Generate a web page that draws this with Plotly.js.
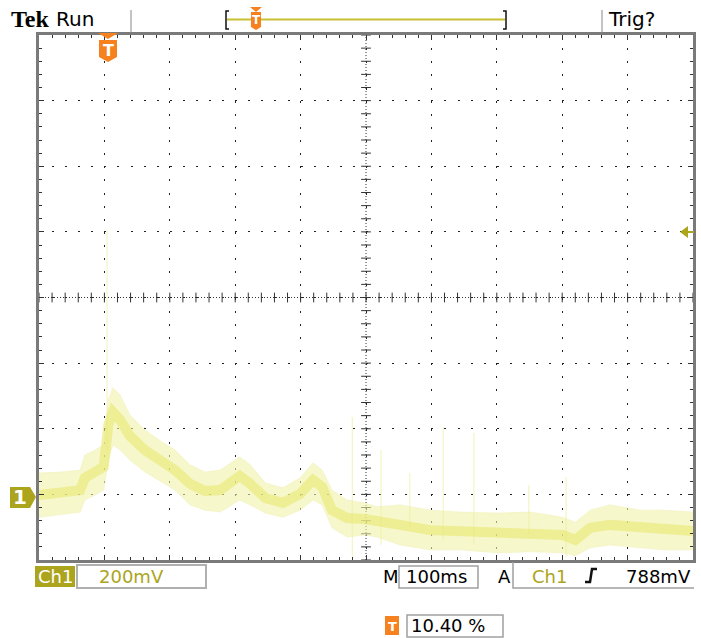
<!DOCTYPE html>
<html><head><meta charset="utf-8">
<script src="https://cdn.plot.ly/plotly-3.0.1.min.js"></script>
<style>html,body{margin:0;padding:0;background:#fff;}#chart{width:701px;height:638px;}</style>
</head><body><div id="chart"></div>
<script>
// ---- Data (time in ms, voltage in mV relative to Ch1 ground) ----
const timeMs   = [0, 32, 63, 70, 86, 99, 106, 113, 124, 139, 162, 190, 208, 231, 254, 277, 307, 323, 346, 373, 399, 419, 433, 448, 471, 498, 517, 552, 598, 644, 700, 751, 801, 820, 843, 873, 919, 954, 1000];
const envHiMv  = [65, 68, 74, 120, 135, 151, 288, 325, 303, 242, 196, 157, 135, 90, 68, 74, 114, 90, 35, 20, 50, 96, 74, 13, -17, -26, -38, -32, -48, -54, -57, -54, -70, -85, -48, -32, -48, -48, -54];
const envLoMv  = [-70, -63, -54, -17, -2, 13, 105, 151, 135, 105, 68, 35, 13, -32, -48, -54, -17, -32, -57, -70, -48, -17, -32, -102, -130, -124, -130, -154, -169, -169, -178, -175, -178, -187, -163, -154, -163, -169, -169];
const coreMv   = [-2, 4, 13, 50, 68, 84, 212, 251, 227, 178, 135, 99, 74, 32, 10, 13, 56, 32, -11, -26, 1, 44, 23, -48, -72, -75, -84, -93, -109, -112, -118, -115, -124, -139, -102, -93, -102, -109, -112];
const spikeTimeMs   = [104, 479, 523, 567, 618, 665, 749, 806];
const spikeTopMv    = [806, 236, 135, 65, 205, 187, 29, 53];
const spikeBottomMv = [135, -191, -154, -100, -140, -154, -120, -191];

// ---- Scope settings / readouts ----
const chLabel = 'Ch1';
const voltsPerDiv = '200mV';
const timePerDiv = '100ms';
const trigLevel = '788mV';
const trigPos = '10.40 %';
const statusText = 'Run';
const trigStatus = 'Trig?';

// ---- geometry helpers (pixel -> paper) ----
const ML = 39, MT = 35, PW = 654, PH = 525;
const PX = x => (x - ML) / PW;
const PY = y => 1 - (y - MT) / PH;
const pp = s => s.replace(/(-?\d+\.?\d*),(-?\d+\.?\d*)/g, (m, a, b) => PX(+a) + ',' + PY(+b));

const olive = '#aca41c';
const orange = '#f5821f';

// spikes as segments
const spX = [], spY = [];
spikeTimeMs.forEach((t, i) => { spX.push(t, t, null); spY.push(spikeBottomMv[i], spikeTopMv[i], null); });

// center-line tick decorations (every 1/5 division)
const ctX = [], ctY = [], crX = [], crY = [];
for (let t = 0; t <= 1000; t += 20) { ctX.push(t); ctY.push(600); }
for (let v = -200; v <= 1400; v += 40) { crX.push(500); crY.push(v); }

const traces = [
  {x: ctX, y: ctY, mode: 'markers', marker: {symbol: 'line-ns', size: 7, line: {color: '#333', width: 1}}, hoverinfo: 'skip'},
  {x: crX, y: crY, mode: 'markers', marker: {symbol: 'line-ew', size: 7, line: {color: '#333', width: 1}}, hoverinfo: 'skip'},
  {x: timeMs, y: envLoMv, mode: 'lines', line: {color: 'rgba(240,240,180,0.5)', width: 1}, hoverinfo: 'skip'},
  {x: timeMs, y: envHiMv, mode: 'lines', fill: 'tonexty', fillcolor: 'rgba(242,242,170,0.6)', line: {color: 'rgba(240,240,180,0.5)', width: 1}, hoverinfo: 'skip'},
  {x: spX, y: spY, mode: 'lines', line: {color: 'rgba(238,238,160,0.75)', width: 1}, hoverinfo: 'skip'},
  {x: timeMs, y: coreMv, mode: 'lines', line: {color: 'rgba(232,232,110,0.6)', width: 10}, hoverinfo: 'skip'}
];

const axisCommon = {
  showgrid: true, gridcolor: '#222', gridwidth: 1,
  showline: true, linecolor: '#7a7a7a', linewidth: 3, mirror: 'allticks',
  ticks: 'inside', ticklen: 5, tickcolor: '#333', tickwidth: 1,
  showticklabels: false, zeroline: false, fixedrange: true
};

const shapes = [
  {type: 'line', xref: 'x', yref: 'y', x0: 0, x1: 1000, y0: 600, y1: 600, line: {color: '#333', width: 1, dash: '1px,2px'}, layer: 'below'},
  {type: 'line', xref: 'x', yref: 'y', x0: 500, x1: 500, y0: -200, y1: 1400, line: {color: '#333', width: 1, dash: '1px,2px'}, layer: 'below'},
  {type: 'line', xref: 'paper', yref: 'paper', x0: PX(131), x1: PX(131), y0: PY(10), y1: PY(33), line: {color: '#888', width: 1}},
  {type: 'line', xref: 'paper', yref: 'paper', x0: PX(602), x1: PX(602), y0: PY(10), y1: PY(33), line: {color: '#888', width: 1}},
  {type: 'line', xref: 'paper', yref: 'paper', x0: PX(227), x1: PX(505), y0: PY(19.5), y1: PY(19.5), line: {color: '#c9c033', width: 2}},
  {type: 'path', xref: 'paper', yref: 'paper', path: pp('M229,11 L226,11 L226,29 L229,29'), line: {color: '#111', width: 1.5}},
  {type: 'path', xref: 'paper', yref: 'paper', path: pp('M503,11 L506,11 L506,29 L503,29'), line: {color: '#111', width: 1.5}},
  {type: 'path', xref: 'paper', yref: 'paper', path: pp('M250,7 L262,7 L256,12 Z'), fillcolor: orange, line: {width: 0}},
  {type: 'path', xref: 'paper', yref: 'paper', path: pp('M251,12 L261,12 L261,27 L256,30 L251,27 Z'), fillcolor: orange, line: {width: 0}},
  {type: 'path', xref: 'paper', yref: 'paper', path: pp('M98,33 L118,33 L108,39 Z'), fillcolor: orange, line: {width: 0}},
  {type: 'path', xref: 'paper', yref: 'paper', path: pp('M99,40 L117,40 L117,57 L108,62 L99,57 Z'), fillcolor: orange, line: {width: 0}},
  {type: 'path', xref: 'paper', yref: 'paper', path: pp('M10,487 L30,487 L36,497 L30,508 L10,508 Z'), fillcolor: olive, line: {width: 0}},
  {type: 'path', xref: 'paper', yref: 'paper', path: pp('M680,232 L688,226 L688,238 Z'), fillcolor: olive, line: {width: 0}},
  {type: 'line', xref: 'paper', yref: 'paper', x0: PX(687), x1: PX(694), y0: PY(232), y1: PY(232), line: {color: olive, width: 2}},
  {type: 'rect', xref: 'paper', yref: 'paper', x0: PX(35), x1: PX(75), y0: PY(566), y1: PY(587), fillcolor: olive, line: {width: 0}},
  {type: 'rect', xref: 'paper', yref: 'paper', x0: PX(77), x1: PX(206), y0: PY(565), y1: PY(588), line: {color: '#b0b0b0', width: 2}},
  {type: 'rect', xref: 'paper', yref: 'paper', x0: PX(399), x1: PX(478), y0: PY(566), y1: PY(588), line: {color: '#a0a0a0', width: 1.5}},
  {type: 'path', xref: 'paper', yref: 'paper', path: pp('M513,562 L513,588 L694,588'), line: {color: '#a0a0a0', width: 1.5}},
  {type: 'path', xref: 'paper', yref: 'paper', path: pp('M585,582 L590,582 L592,569 L597,569'), line: {color: '#111', width: 2.5}},
  {type: 'rect', xref: 'paper', yref: 'paper', x0: PX(385), x1: PX(399), y0: PY(616), y1: PY(635), fillcolor: orange, line: {width: 0}},
  {type: 'rect', xref: 'paper', yref: 'paper', x0: PX(407), x1: PX(503), y0: PY(615), y1: PY(637), line: {color: '#a0a0a0', width: 1.5}}
];

const F = 'DejaVu Sans, sans-serif';
const ann = (x, y, text, size, color, extra) => Object.assign({
  xref: 'paper', yref: 'paper', x: PX(x), y: PY(y), text: text, showarrow: false,
  xanchor: 'left', yanchor: 'middle', font: {family: F, size: size, color: color}
}, extra || {});

const annotations = [
  ann(9, 19, '<b>Tek</b>', 24, '#000', {font: {family: 'Liberation Serif, serif', size: 24, color: '#000'}}),
  ann(54, 19, statusText, 20, '#000'),
  ann(606, 19, trigStatus, 20, '#000'),
  ann(256, 20, '<b>T</b>', 12, '#fff', {xanchor: 'center'}),
  ann(108, 51, '<b>T</b>', 16, '#fff', {xanchor: 'center'}),
  ann(20, 497, '<b>1</b>', 20, '#fff', {xanchor: 'center'}),
  ann(55, 576, chLabel, 18, '#fff', {xanchor: 'center'}),
  ann(97, 576, voltsPerDiv, 18, olive),
  ann(381, 576, 'M', 18, '#000'),
  ann(404, 576, timePerDiv, 18, '#000'),
  ann(496, 576, 'A', 18, '#000'),
  ann(530, 576, chLabel, 18, olive),
  ann(624, 576, trigLevel, 18, '#000'),
  ann(392, 626, '<b>T</b>', 13, '#fff', {xanchor: 'center'}),
  ann(409, 625, trigPos, 18, '#000')
];

const layout = {
  width: 701, height: 638,
  margin: {l: ML, r: 701 - ML - PW, t: MT, b: 638 - MT - PH, pad: 0},
  paper_bgcolor: '#fff', plot_bgcolor: '#fff',
  showlegend: false, hovermode: false,
  xaxis: Object.assign({}, axisCommon, {range: [0, 1000], tick0: 0, dtick: 100, griddash: '2px,11.125px',
    minor: {dtick: 20, ticks: 'inside', ticklen: 3, tickcolor: '#333', showgrid: false}}),
  yaxis: Object.assign({}, axisCommon, {range: [-200, 1400], tick0: 0, dtick: 200, griddash: '2px,11.08px',
    minor: {dtick: 40, ticks: 'inside', ticklen: 3, tickcolor: '#333', showgrid: false}}),
  shapes: shapes,
  annotations: annotations
};

Plotly.newPlot('chart', traces, layout, {staticPlot: true, displayModeBar: false});
</script>
</body></html>
